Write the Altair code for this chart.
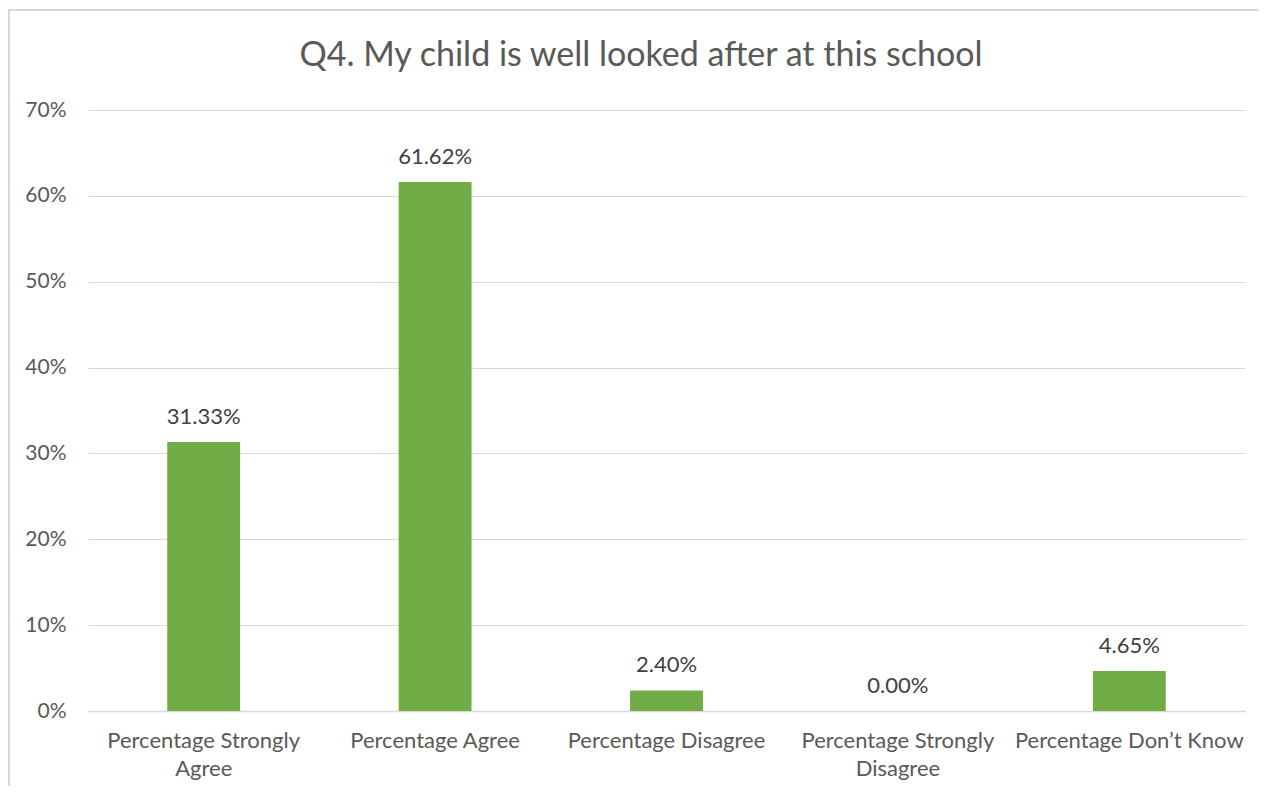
import altair as alt
import pandas as pd

TITLE = "Q4. My child is well looked after at this school"
categories = [
    "Percentage Strongly Agree",
    "Percentage Agree",
    "Percentage Disagree",
    "Percentage Strongly Disagree",
    "Percentage Don\u2019t Know",
]
values = [31.33, 61.62, 2.40, 0.00, 4.65]
labels = ["31.33%", "61.62%", "2.40%", "0.00%", "4.65%"]

df = pd.DataFrame({"cat": categories, "val": values, "lab": labels})

FONT = "Lato"
W, H = 1157, 601

label_expr = (
    "datum.value == 'Percentage Strongly Agree' ? ['Percentage Strongly', 'Agree'] : "
    "datum.value == 'Percentage Strongly Disagree' ? ['Percentage Strongly', 'Disagree'] : datum.value"
)

x = alt.X(
    "cat:N",
    sort=categories,
    title=None,
    scale=alt.Scale(paddingInner=0.685, paddingOuter=0.3425),
    axis=alt.Axis(
        labelAngle=0,
        labelExpr=label_expr,
        labelFont=FONT,
        labelFontSize=22,
        labelColor="#595959",
        labelPadding=19,
        labelLineHeight=28,
        labelLimit=300,
        ticks=False,
        domain=True,
        domainColor="#d9d9d9",
        domainWidth=1.5,
        grid=False,
    ),
)

y = alt.Y(
    "val:Q",
    title=None,
    scale=alt.Scale(domain=[0, 70], nice=False),
    axis=alt.Axis(
        values=[0, 10, 20, 30, 40, 50, 60, 70],
        labelExpr="datum.value + '%'",
        labelFont=FONT,
        labelFontSize=21,
        labelColor="#595959",
        labelPadding=22,
        ticks=False,
        domain=False,
        grid=True,
        gridColor="#d9d9d9",
        gridWidth=1,
    ),
)

bars = alt.Chart(df).mark_bar(color="#70AD47").encode(x=x, y=y)

text = alt.Chart(df).mark_text(
    font=FONT, fontSize=22, color="#404040", baseline="middle", dy=-25
).encode(x=alt.X("cat:N", sort=categories), y="val:Q", text="lab:N")

title = alt.Chart(df.head(1)).mark_text(
    text=TITLE, font=FONT, fontSize=34, color="#595959", baseline="middle", align="center"
).encode(x=alt.value(553), y=alt.value(-54))

border_left = alt.Chart(df.head(1)).mark_rule(color="#d9d9d9", strokeWidth=2).encode(
    x=alt.value(-79), y=alt.value(-100), y2=alt.value(H + 80)
)
border_top = alt.Chart(df.head(1)).mark_rule(color="#d9d9d9", strokeWidth=2).encode(
    x=alt.value(-80), x2=alt.value(W + 20), y=alt.value(-100)
)

chart = (
    alt.layer(border_left, border_top, bars, text, title)
    .properties(
        width=W,
        height=H,
        background="white",
        autosize=alt.AutoSizeParams(type="none"),
        padding={"left": 80, "top": 102, "right": 14, "bottom": 75},
    )
    .configure_view(strokeWidth=0, stroke="transparent")
)

chart.save("out.html", embed_options={"renderer": "svg", "actions": False})
